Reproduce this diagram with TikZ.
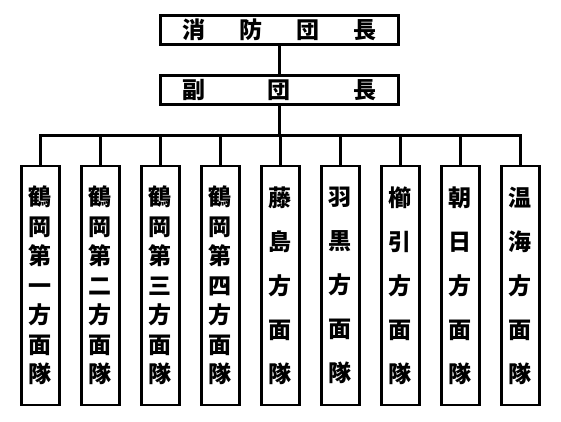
\documentclass[tikz,border=0pt]{standalone}
\usepackage{fontspec}
\usepackage{tikz}
\usetikzlibrary{positioning}
\newfontfamily\jafont{Noto Sans CJK JP}

\begin{document}
\begin{tikzpicture}[
  x=1pt, y=-1pt,
  font=\jafont\bfseries,
  head/.style={draw, line width=2.8pt, minimum width=238pt, minimum height=28.4pt,
               inner sep=0pt, font=\jafont\bfseries\fontsize{23}{23}\selectfont},
  unit/.style={draw, line width=2.8pt, minimum width=38.2pt, minimum height=239pt,
               inner sep=0pt, align=center,
               font=\jafont\bfseries\fontsize{23}{#1}\selectfont},
  conn/.style={line width=2.8pt},
  node distance=19pt,
]
\useasboundingbox (0,0) rectangle (561,422);

% top of the organisation
\node[head] (chief) at (279.5,30) {\makebox[194pt][s]{消\hfill 防\hfill 団\hfill 長}};
\node[head, below=28.8pt of chief] (vice) {\makebox[194pt][s]{副\hfill 団\hfill 長}};

% the nine units
\node[unit=29.5pt] (u1) at (40.4,285.5) {鶴\\岡\\第\\一\\方\\面\\隊};
\node[unit=29.5pt, right=of u1] (u2) {鶴\\岡\\第\\二\\方\\面\\隊};
\node[unit=29.5pt, right=of u2] (u3) {鶴\\岡\\第\\三\\方\\面\\隊};
\node[unit=29.5pt, right=of u3] (u4) {鶴\\岡\\第\\四\\方\\面\\隊};
\node[unit=44pt, right=of u4] (u5) {藤\\島\\方\\面\\隊};
\node[unit=44pt, right=of u5] (u6) {羽\\黒\\方\\面\\隊};
\node[unit=44pt, right=of u6] (u7) {櫛\\引\\方\\面\\隊};
\node[unit=44pt, right=of u7] (u8) {朝\\日\\方\\面\\隊};
\node[unit=44pt, right=of u8] (u9) {温\\海\\方\\面\\隊};

\coordinate (bus) at (0,135.3);
\draw[conn] (chief) -- (vice);
\foreach \i in {1,...,9}
  \draw[conn] (vice.south) -- (vice.south |- bus) -| (u\i.north);
\end{tikzpicture}
\end{document}
